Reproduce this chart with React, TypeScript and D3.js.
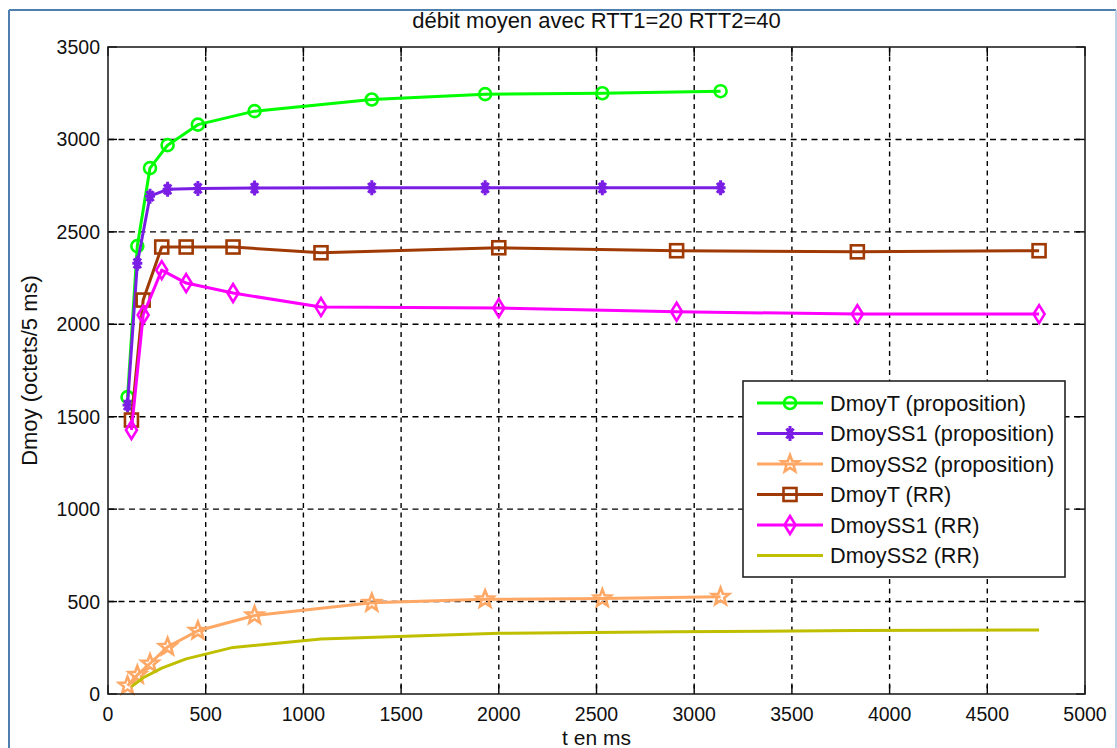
import React from "react";
import * as d3 from "d3";

const title = "débit moyen avec RTT1=20 RTT2=40";
const xLabel = "t en ms";
const yLabel = "Dmoy (octets/5 ms)";
const xTicks = [0, 500, 1000, 1500, 2000, 2500, 3000, 3500, 4000, 4500, 5000];
const yTicks = [0, 500, 1000, 1500, 2000, 2500, 3000, 3500];

const tProp = [100, 150, 215, 305, 460, 750, 1350, 1930, 2530, 3135];
const tRR = [120, 180, 275, 400, 640, 1090, 2000, 2910, 3835, 4765];

const dmoyTProp = [1606, 2423, 2845, 2969, 3080, 3153, 3216, 3245, 3250, 3261];
const dmoySS1Prop = [1563, 2330, 2693, 2730, 2735, 2737, 2738, 2738, 2738, 2738];
const dmoySS2Prop = [45, 103, 165, 255, 342, 425, 493, 512, 517, 526];
const dmoyTRR = [1482, 2131, 2418, 2418, 2418, 2387, 2414, 2398, 2392, 2398];
const dmoySS1RR = [1428, 2050, 2293, 2223, 2169, 2093, 2088, 2068, 2055, 2055];
const dmoySS2RR = [40, 88, 140, 190, 252, 297, 328, 337, 343, 346];

const seriesNames = [
  "DmoyT (proposition)",
  "DmoySS1 (proposition)",
  "DmoySS2 (proposition)",
  "DmoyT (RR)",
  "DmoySS1 (RR)",
  "DmoySS2 (RR)",
];
const seriesColors = ["#00ff00", "#7a1ee6", "#ffa865", "#a03a05", "#ff00ff", "#bfbf00"];
const seriesMarkers = ["circle", "asterisk", "pentagram", "square", "diamond", "none"];

const series = [
  { t: tProp, v: dmoyTProp },
  { t: tProp, v: dmoySS1Prop },
  { t: tProp, v: dmoySS2Prop },
  { t: tRR, v: dmoyTRR },
  { t: tRR, v: dmoySS1RR },
  { t: tRR, v: dmoySS2RR },
];

const W = 1117;
const H = 748;
const M = { left: 108, right: 1085, top: 47, bottom: 694 };
const FONT = "Arial, 'Liberation Sans', Helvetica, sans-serif";

function starPath(ro: number, ri: number) {
  const pts: string[] = [];
  for (let i = 0; i < 10; i++) {
    const r = i % 2 === 0 ? ro : ri;
    const a = -Math.PI / 2 + (i * Math.PI) / 5;
    pts.push(`${(r * Math.cos(a)).toFixed(2)},${(r * Math.sin(a)).toFixed(2)}`);
  }
  return "M" + pts.join("L") + "Z";
}

function Marker({ kind, x, y, color }: { kind: string; x: number; y: number; color: string }) {
  const common = { fill: "none", stroke: color, strokeWidth: 2.6, strokeLinejoin: "miter" as const };
  const tr = `translate(${x},${y})`;
  if (kind === "circle") return <circle cx={x} cy={y} r={6} {...common} />;
  if (kind === "square") return <rect x={x - 6.5} y={y - 6.5} width={13} height={13} {...common} />;
  if (kind === "diamond")
    return <path transform={tr} d="M0,-9L5.5,0L0,9L-5.5,0Z" {...common} />;
  if (kind === "pentagram") return <path transform={tr} d={starPath(9, 3.8)} {...common} />;
  if (kind === "asterisk")
    return (
      <path
        transform={tr}
        d="M0,-7.5L0,7.5M-5,0L5,0M-3.5,-5L3.5,5M-3.5,5L3.5,-5"
        stroke={color}
        strokeWidth={3}
        fill="none"
      />
    );
  return null;
}

export default function App() {
  const x = d3.scaleLinear().domain([0, 5000]).range([M.left, M.right]);
  const y = d3.scaleLinear().domain([0, 3500]).range([M.bottom, M.top]);
  const line = d3
    .line<[number, number]>()
    .x((d) => x(d[0]))
    .y((d) => y(d[1]));

  const tickLen = 9;
  const legend = { x0: 743, y0: 381, x1: 1065, y1: 577, rowY0: 403, rowStep: 30.5 };

  return (
    <div style={{ position: "fixed", left: 0, top: 0, width: W, height: H, background: "#fff" }}>
      <svg width={W} height={H} style={{ display: "block" }} fontFamily={FONT}>
        <rect x={0} y={0} width={W} height={H} fill="#fff" />
        {/* window frame */}
        <line x1={9} y1={10} x2={1116} y2={10} stroke="#4f7fae" strokeWidth={2} />
        <line x1={9} y1={10} x2={9} y2={H} stroke="#4f7fae" strokeWidth={2} />
        <line x1={1116} y1={10} x2={1116} y2={H} stroke="#a9c4de" strokeWidth={1.5} />

        {/* grid */}
        {xTicks.slice(1, -1).map((t) => (
          <line key={"gx" + t} x1={x(t)} x2={x(t)} y1={M.top} y2={M.bottom} stroke="#000" strokeWidth={1.4} strokeDasharray="5,4.5" />
        ))}
        {yTicks.slice(1, -1).map((t) => (
          <line key={"gy" + t} x1={M.left} x2={M.right} y1={y(t)} y2={y(t)} stroke="#000" strokeWidth={1.4} strokeDasharray="6,4.5" />
        ))}

        {/* ticks */}
        {xTicks.map((t) => (
          <g key={"tx" + t}>
            <line x1={x(t)} x2={x(t)} y1={M.bottom} y2={M.bottom - tickLen} stroke="#000" strokeWidth={1.4} />
            <line x1={x(t)} x2={x(t)} y1={M.top} y2={M.top + tickLen} stroke="#000" strokeWidth={1.4} />
            <text x={x(t)} y={721} textAnchor="middle" fontSize={19.5} fill="#111">
              {t}
            </text>
          </g>
        ))}
        {yTicks.map((t) => (
          <g key={"ty" + t}>
            <line x1={M.left} x2={M.left + tickLen} y1={y(t)} y2={y(t)} stroke="#000" strokeWidth={1.4} />
            <line x1={M.right} x2={M.right - tickLen} y1={y(t)} y2={y(t)} stroke="#000" strokeWidth={1.4} />
            <text x={100} y={y(t) + 7} textAnchor="end" fontSize={19.5} fill="#111">
              {t}
            </text>
          </g>
        ))}

        {/* series */}
        {series.map((s, i) => {
          const pts = s.t.map((t, k) => [t, s.v[k]] as [number, number]);
          return (
            <g key={"s" + i}>
              <path d={line(pts) || ""} fill="none" stroke={seriesColors[i]} strokeWidth={3} strokeLinejoin="round" />
              {seriesMarkers[i] !== "none" &&
                pts.map((p, k) => <Marker key={k} kind={seriesMarkers[i]} x={x(p[0])} y={y(p[1])} color={seriesColors[i]} />)}
            </g>
          );
        })}

        {/* axes box */}
        <rect x={M.left} y={M.top} width={M.right - M.left} height={M.bottom - M.top} fill="none" stroke="#222" strokeWidth={1.6} />

        {/* legend */}
        <rect x={legend.x0} y={legend.y0} width={legend.x1 - legend.x0} height={legend.y1 - legend.y0} fill="#fff" stroke="#222" strokeWidth={1.6} />
        {seriesNames.map((name, i) => {
          const ry = legend.rowY0 + i * legend.rowStep;
          return (
            <g key={"lg" + i}>
              <line x1={757} x2={823} y1={ry} y2={ry} stroke={seriesColors[i]} strokeWidth={3} />
              <Marker kind={seriesMarkers[i]} x={790} y={ry} color={seriesColors[i]} />
              <text x={830} y={ry + 7.5} fontSize={21.7} fill="#111">
                {name}
              </text>
            </g>
          );
        })}

        {/* labels */}
        <text x={(M.left + M.right) / 2} y={28} textAnchor="middle" fontSize={22} fill="#111">
          {title}
        </text>
        <text x={(M.left + M.right) / 2} y={745} textAnchor="middle" fontSize={21} fill="#111">
          {xLabel}
        </text>
        <text transform={`translate(37,${(M.top + M.bottom) / 2}) rotate(-90)`} textAnchor="middle" fontSize={22} fill="#111">
          {yLabel}
        </text>
      </svg>
    </div>
  );
}
